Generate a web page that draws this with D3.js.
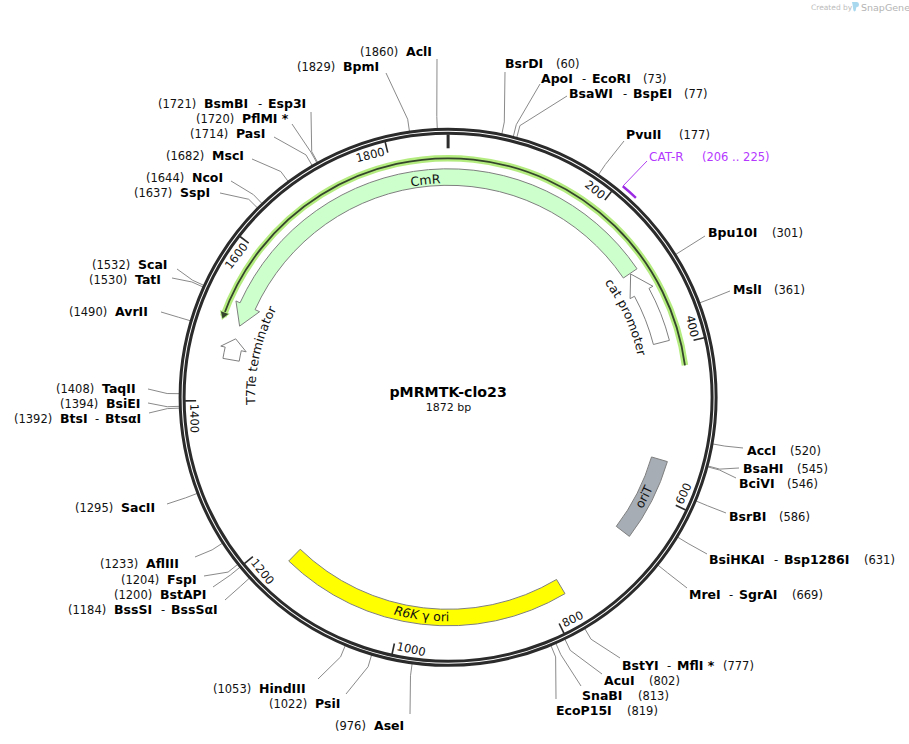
<!DOCTYPE html>
<html lang="en">
<head>
<meta charset="UTF-8">
<title>pMRMTK-clo23</title>
<script src="https://d3js.org/d3.v7.min.js"></script>
<style>
  body { margin: 0; background: #fff; }
  svg { display: block; font-family: "DejaVu Sans", sans-serif; }
  .name { font-weight: bold; font-size: 12.5px; fill: #000; }
  .pos { font-size: 11.5px; fill: #111; }
  .lead { fill: none; stroke: #8a8a8a; stroke-width: 1; }
</style>
</head>
<body>
<script>
const plasmidName = "pMRMTK-clo23";
const plasmidLength = 1872;
const tickValues = [0, 200, 400, 600, 800, 1000, 1200, 1400, 1600, 1800];

// restriction sites
const siteNames = ["BsrDI","ApoI","BsaWI","PvuII","Bpu10I","MslI","AccI","BsaHI","BciVI","BsrBI","BsiHKAI","MreI","BstYI","AcuI","SnaBI","EcoP15I",
  "AseI","PsiI","HindIII","BssSI","BstAPI","FspI","AflIII","SacII","BtsI","BsiEI","TaqII","AvrII","TatI","ScaI","SspI","NcoI","MscI","PasI","PflMI *","BsmBI","BpmI","AclI"];
const siteAltNames = ["","EcoRI","BspEI","","","","","","","","Bsp1286I","SgrAI","MflI *","","","",
  "","","","BssSαI","","","","","BtsαI","","","","","","","","","","","Esp3I","",""];
const sitePositions = [60,73,77,177,301,361,520,545,546,586,631,669,777,802,813,819,
  976,1022,1053,1184,1200,1204,1233,1295,1392,1394,1408,1490,1530,1532,1637,1644,1682,1714,1720,1721,1829,1860];

// label layout, same order as the sites: name x, alt name x, position text x, row y, leader end x, y
const siteLayout = [
  [505,0,556,64,505,72],[541,592,643,79,540,84],[569,633,684,94,567,96],[626,0,679,135,624,141],[708,0,772,233,705,236],[733,0,774,290,730,291],
  [747,0,790,451,743,448],[743,0,797,469,739,468],[739,0,787,484,736,478],[729,0,779,517,726,513],[709,784,864,560,707,554],[689,739,792,595,687,588],
  [622,677,723,666,620,658],[604,0,649,681,602,674],[582,0,638,696,581,686],[556,0,627,711,556,699],
  [374,0,335,726,410,714],[315,0,269,704,346,694],[259,0,213,689,318,679],[114,171,68,610,225,600],[160,0,114,595,213,587],[167,0,121,580,204,576],
  [146,0,100,564,195,557],[121,0,75,508,167,504],[60,105,14,419,149,413],[106,0,60,404,148,403],[102,0,56,389,148,389],[115,0,69,312,161,312],
  [135,0,89,280,172,278],[138,0,92,265,177,269],[180,0,134,193,220,193],[192,0,146,178,231,181],[212,0,166,156,252,159],[236,0,190,134,274,137],
  [242,0,196,119,292,124],[204,268,158,104,311,112],[343,0,297,67,386,73],[406,0,360,52,437,59]
];

// features
const arrowNames = ["CmR", "cat promoter", "T7Te terminator"];
const arrowTails = [290, 393, 1455];
const arrowNecks = [1531, 320, 1470];
const arrowTips = [1502, 291, 1484];
const arrowFills = ["#ccffcc", "#ffffff", "#ffffff"];
const arrowLabelAt = [1841, 342, 1469];
const arrowLabelR = [214, 194, 193];

const bandNames = ["oriT", "R6K"];
const bandStarts = [553, 776];
const bandEnds = [663, 1166];
const bandFills = ["#a7adb5", "#ffff00"];
const bandLabelAt = [608, 972];

const primerName = "CAT-R";
const primerStart = 206;
const primerEnd = 225;
const primerRange = "(206 .. 225)";

const orfStart = 428;
const orfEnd = 1507;

const w = 909, h = 744;
const cx = 448.1, cy = 397.3;
const TAU = Math.PI * 2;

const angle = d3.scaleLinear().domain([0, plasmidLength]).range([0, TAU]);

function polar(p, r) {
  const a = angle(p);
  return [r * Math.sin(a), -r * Math.cos(a)];
}
// arc along radius r between two positions, continuing the path
function arcTo(path, p0, p1, r, ccw) {
  path.arc(0, 0, r, angle(p0) - Math.PI / 2, angle(p1) - Math.PI / 2, ccw);
}

const svg = d3.select("body").append("svg").attr("width", w).attr("height", h);
const defs = svg.append("defs");
const g = svg.append("g").attr("transform", `translate(${cx},${cy})`);

// leaders sit under the ring
const elbowR = 281, ringR = 268;
sitePositions.forEach((p, i) => {
  const l = siteLayout[i];
  const path = d3.path();
  path.moveTo(...polar(p, ringR));
  path.lineTo(...polar(p, elbowR));
  path.lineTo(l[4] - cx, l[5] - cy);
  g.append("path").attr("class", "lead").attr("d", path);
});

// backbone: two dark rings
[268, 264].forEach(r => {
  g.append("circle").attr("r", r).attr("fill", "none").attr("stroke", "#2b2b2b").attr("stroke-width", 3);
});

// ticks
tickValues.forEach(t => {
  const path = d3.path();
  path.moveTo(...polar(t, 263));
  path.lineTo(...polar(t, t === 0 ? 249 : 252));
  g.append("path").attr("d", path).attr("stroke", "#2b2b2b").attr("stroke-width", t === 0 ? 3 : 1.6);
  if (t === 0) return;
  const deg = angle(t) * 180 / Math.PI;
  const lower = deg > 90 && deg < 270;
  const [x, y] = polar(t - 3 * plasmidLength / (TAU * 255), lower ? 258 : 250);
  g.append("text").text(t)
    .attr("transform", `translate(${x},${y}) rotate(${lower ? deg - 180 : deg})`)
    .attr("text-anchor", lower ? "start" : "end")
    .attr("font-size", 11.5).attr("fill", "#111");
});

// primer mark
const primerArc = d3.path();
const primerTop = polar(primerStart, 274);
primerArc.moveTo(...primerTop);
arcTo(primerArc, primerStart, primerEnd, 274, false);
g.append("path").attr("d", primerArc).attr("fill", "none").attr("stroke", "#9a2be2").attr("stroke-width", 2.4);
const primerLead = d3.path();
primerLead.moveTo(...primerTop);
primerLead.lineTo(647 - cx, 161 - cy);
g.append("path").attr("d", primerLead).attr("fill", "none").attr("stroke", "#b040f0").attr("stroke-width", 1);

// ORF line with a green halo
function orfPath() {
  const p = d3.path();
  p.moveTo(...polar(orfStart, 239));
  arcTo(p, orfStart, orfEnd, 239, true);
  return p;
}
g.append("path").attr("d", orfPath()).attr("fill", "none").attr("stroke", "#b5ec80").attr("stroke-width", 6.5);
g.append("path").attr("d", orfPath()).attr("fill", "none").attr("stroke", "#35452c").attr("stroke-width", 1.8);
const orfHead = d3.path();
orfHead.moveTo(...polar(orfEnd - 3, 239));
orfHead.lineTo(...polar(orfEnd + 5, 243));
orfHead.lineTo(...polar(orfEnd + 5, 235));
orfHead.closePath();
g.append("path").attr("d", orfHead).attr("fill", "#35452c").attr("stroke", "#b5ec80").attr("stroke-width", 1.5).attr("paint-order", "stroke");

// directional features
const rIn = 212, rOut = 228.5, rMid = 220.3;
arrowNames.forEach((name, i) => {
  const tail = arrowTails[i], neck = arrowNecks[i], tip = arrowTips[i];
  const deg = d => (angle(d) * 180 / Math.PI);
  const up = (((deg(neck) - deg(tail)) % 360) + 360) % 360 < 180; // clockwise if true
  const p = d3.path();
  p.moveTo(...polar(tail, rOut));
  arcTo(p, tail, neck, rOut, !up);
  p.lineTo(...polar(neck, 233));
  p.lineTo(...polar(tip, rMid));
  p.lineTo(...polar(neck, 207));
  p.lineTo(...polar(neck, rIn));
  arcTo(p, neck, tail, rIn, up);
  p.closePath();
  g.append("path").attr("d", p).attr("fill", arrowFills[i]).attr("stroke", "#7f7f7f").attr("stroke-width", 1);

  // curved name, reading clockwise
  const span = plasmidLength / 5;
  const guide = d3.path();
  const r = arrowLabelR[i], at = arrowLabelAt[i];
  guide.moveTo(...polar(at - span, r));
  arcTo(guide, at - span, at + span, r, false);
  defs.append("path").attr("id", "arrow-label-" + i).attr("d", guide);
  g.append("text").attr("font-size", 12.5).attr("fill", "#111").attr("text-anchor", "middle")
    .append("textPath").attr("href", "#arrow-label-" + i).attr("startOffset", "50%").text(name);
});

// plain bands
bandNames.forEach((name, i) => {
  const a = d3.arc().innerRadius(rIn).outerRadius(rOut)
    .startAngle(angle(bandStarts[i])).endAngle(angle(bandEnds[i]));
  g.append("path").attr("d", a()).attr("fill", bandFills[i]).attr("stroke", "#7f7f7f").attr("stroke-width", 1);

  // curved name, reading counter-clockwise
  const span = plasmidLength / 5;
  const at = bandLabelAt[i];
  const guide = d3.path();
  guide.moveTo(...polar(at + span, 224));
  arcTo(guide, at + span, at - span, 224, true);
  defs.append("path").attr("id", "band-label-" + i).attr("d", guide);
  const tp = g.append("text").attr("font-size", 12.5).attr("fill", "#111").attr("text-anchor", "middle")
    .append("textPath").attr("href", "#band-label-" + i).attr("startOffset", "50%");
  if (name === "R6K") {
    tp.append("tspan").attr("font-style", "italic").text("R6K");
    tp.append("tspan").text(" γ ori");
  } else {
    tp.text(name);
  }
});

// site labels
const labels = svg.append("g");
siteNames.forEach((name, i) => {
  const l = siteLayout[i];
  const y = l[3] + 3.8;
  labels.append("text").attr("class", "name").attr("x", l[0]).attr("y", y).text(name);
  if (siteAltNames[i]) {
    labels.append("text").attr("class", "pos").attr("x", l[1] - 10).attr("y", y).text("-");
    labels.append("text").attr("class", "name").attr("x", l[1]).attr("y", y).text(siteAltNames[i]);
  }
  labels.append("text").attr("class", "pos").attr("x", l[2]).attr("y", y).text(`(${sitePositions[i]})`);
});

// primer label
labels.append("text").attr("x", 649).attr("y", 161).attr("font-size", 12).attr("fill", "#b538ff").text(primerName);
labels.append("text").attr("x", 702).attr("y", 161).attr("font-size", 11.5).attr("fill", "#b538ff").text(primerRange);

// centre title
labels.append("text").attr("x", cx).attr("y", 397).attr("text-anchor", "middle")
  .attr("font-weight", "bold").attr("font-size", 14.2).attr("fill", "#000").text(plasmidName);
labels.append("text").attr("x", cx + 0.5).attr("y", 411).attr("text-anchor", "middle")
  .attr("font-size", 11).attr("fill", "#111").text(plasmidLength + " bp");

// watermark
labels.append("text").attr("x", 811).attr("y", 10).attr("font-size", 7.5).attr("fill", "#bcbcbc").text("Created by");
labels.append("path").attr("d", "M852 2h5q2 0 2 2.500t-2 2.500q-1 0-1 2t-1.500 2.500q-1.500-.5-1.500-4.500z").attr("fill", "#a8d8ee");
labels.append("text").attr("x", 861).attr("y", 11).attr("font-size", 9.5).attr("fill", "#b4b4b4").text("SnapGene");
</script>
</body>
</html>
